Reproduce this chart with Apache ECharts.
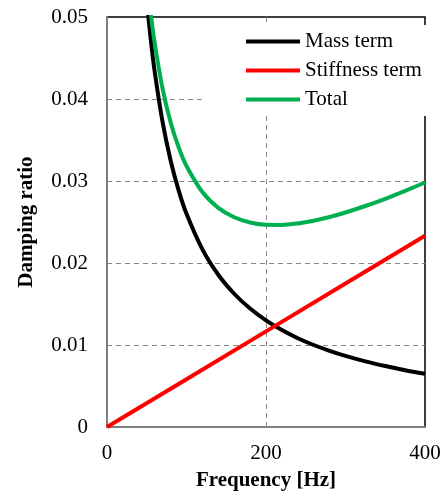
<!DOCTYPE html>
<html>
<head>
<meta charset="utf-8">
<script src="https://cdn.jsdelivr.net/npm/echarts@6/dist/echarts.min.js"></script>
<style>
  html, body { margin: 0; padding: 0; background: #fff; }
  #main { width: 448px; height: 491px; }
</style>
</head>
<body>
<div id="main"></div>
<script>
// frequency [Hz] of the read points
const freq = [50, 55, 60, 70, 80, 90, 100, 120, 140, 160, 180, 200, 220, 240, 260, 280, 300, 325, 350, 375, 400];
// damping ratio
const massTerm = [0.052, 0.04727, 0.04333, 0.03714, 0.0325, 0.02889, 0.026, 0.02167, 0.01857, 0.01625, 0.01444, 0.013, 0.01182, 0.01083, 0.01, 0.00929, 0.00867, 0.008, 0.00743, 0.00693, 0.0065];
const total = [0.05492, 0.05048, 0.04683, 0.04122, 0.03716, 0.03414, 0.03183, 0.02866, 0.02673, 0.02558, 0.02494, 0.02466, 0.02464, 0.02483, 0.02516, 0.02561, 0.02616, 0.02695, 0.02783, 0.0288, 0.02982];
const stiffFreq = [0, 100, 200, 300, 400];
const stiffnessTerm = [0, 0.00583, 0.01166, 0.01749, 0.02332];

const zip = (xs, ys) => xs.map((x, i) => [x, ys[i]]);
const font = 'Liberation Serif';

const chart = echarts.init(document.getElementById('main'));
chart.setOption({
  animation: false,
  textStyle: { fontFamily: font },
  grid: {
    left: 107, right: 23, top: 17, bottom: 64,
    outerBoundsMode: 'none', containLabel: false,
    show: true, borderColor: '#000', borderWidth: 1.5
  },
  legend: {
    orient: 'vertical',
    left: 203, top: 25,
    padding: [6, 8, 6, 43],
    backgroundColor: '#fff',
    itemWidth: 54, itemHeight: 4, itemGap: 8,
    icon: 'rect',
    textStyle: { fontFamily: font, fontSize: 21, color: '#000', lineHeight: 21 },
    data: ['Mass term', 'Stiffness term', 'Total']
  },
  xAxis: {
    type: 'value', min: 0, max: 400, interval: 200,
    name: 'Frequency [Hz]', nameLocation: 'middle', nameGap: 43,
    nameTextStyle: { fontFamily: font, fontSize: 21, fontWeight: 'bold', color: '#000' },
    axisLine: { lineStyle: { color: '#808080', width: 2 } },
    axisTick: { show: false },
    axisLabel: { fontFamily: font, fontSize: 21, color: '#000', margin: 16 },
    splitLine: { showMinLine: false, showMaxLine: false, lineStyle: { color: '#888', type: [5, 4] } }
  },
  yAxis: {
    type: 'value', min: 0, max: 0.05, interval: 0.01,
    name: 'Damping ratio', nameLocation: 'middle', nameGap: 70,
    nameTextStyle: { fontFamily: font, fontSize: 21, fontWeight: 'bold', color: '#000' },
    axisLine: { show: true, lineStyle: { color: '#808080', width: 2 } },
    axisTick: { show: false },
    axisLabel: { fontFamily: font, fontSize: 21, color: '#000', margin: 19 },
    splitLine: { showMinLine: false, showMaxLine: false, lineStyle: { color: '#888', type: [5, 4] } }
  },
  series: [
    {
      name: 'Mass term', type: 'line', showSymbol: false, smooth: 0.3,
      data: zip(freq, massTerm),
      itemStyle: { color: '#000' },
      lineStyle: { color: '#000', width: 4 }
    },
    {
      name: 'Stiffness term', type: 'line', showSymbol: false,
      data: zip(stiffFreq, stiffnessTerm),
      itemStyle: { color: '#ff0000' },
      lineStyle: { color: '#ff0000', width: 4 }
    },
    {
      name: 'Total', type: 'line', showSymbol: false, smooth: 0.3,
      data: zip(freq, total),
      itemStyle: { color: '#00b050' },
      lineStyle: { color: '#00b050', width: 4 }
    }
  ]
});
</script>
</body>
</html>
